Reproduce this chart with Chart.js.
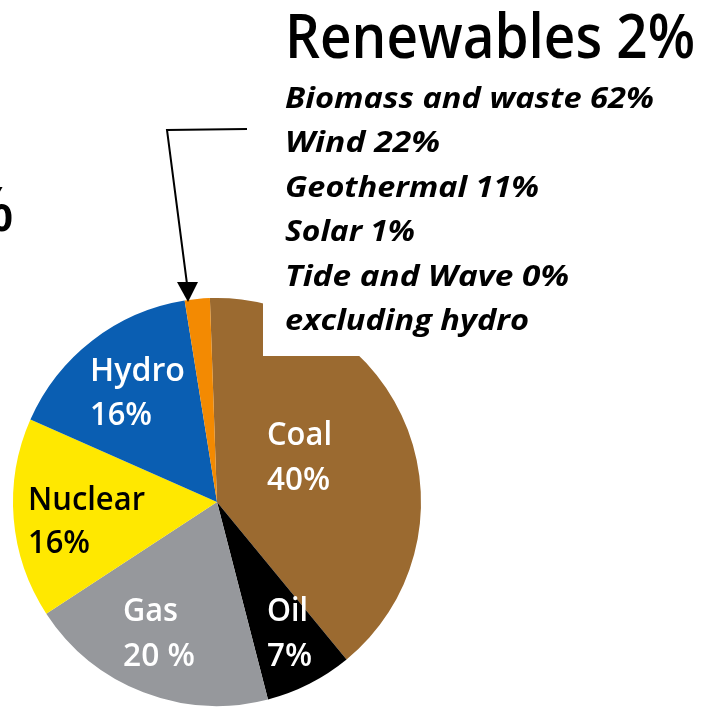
<!DOCTYPE html>
<html>
<head>
<meta charset="utf-8">
<script src="https://cdn.jsdelivr.net/npm/chart.js@4"></script>
<style>
  html, body { margin: 0; padding: 0; background: #fff; }
  #wrap { width: 704px; height: 707px; }
</style>
</head>
<body>
<div id="wrap"><canvas id="mix" width="704" height="707"></canvas></div>
<script>
// energy mix, share of total (percent)
var sources = ["Coal", "Oil", "Gas", "Nuclear", "Hydro", "Renewables"];
var shares = [40, 7, 20, 16, 16, 2];
var colors = ["#9b6a30", "#000000", "#96989c", "#ffe800", "#0a5eb2", "#f38a02"];

var renewTitle = "Renewables 2%";
var renewParts = [
    "Biomass and waste 62%",
    "Wind 22%",
    "Geothermal 11%",
    "Solar 1%",
    "Tide and Wave 0%",
    "excluding hydro"
];

// slice labels: [line1, line2, color, x, y1, y2, w1, w2]
var sliceLabels = [
    ["Coal", "40%", "#fff", 267, 445, 490, 65, 63],
    ["Oil", "7%", "#fff", 267, 621, 666, 41, 45],
    ["Gas", "20 %", "#fff", 123, 621, 666, 55, 72],
    ["Nuclear", "16%", "#000", 28, 510, 553, 117, 62],
    ["Hydro", "16%", "#fff", 90, 381, 425, 95, 62]
];

// draw text stretched/squeezed to an exact width
function fitText(ctx, txt, x, y, w) {
    var m = ctx.measureText(txt).width;
    ctx.save();
    ctx.translate(x, y);
    ctx.scale(w / m, 1);
    ctx.fillText(txt, 0, 0);
    ctx.restore();
}

var overlay = {
    id: 'overlay',
    afterDatasetsDraw: function (chart) {
        var ctx = chart.ctx;
        ctx.save();
        ctx.textBaseline = 'alphabetic';
        ctx.textAlign = 'left';

        // slice labels
        ctx.font = "600 32px 'Open Sans'";
        sliceLabels.forEach(function (l) {
            ctx.fillStyle = l[2];
            fitText(ctx, l[0], l[3], l[4], l[6]);
            fitText(ctx, l[1], l[3], l[5], l[7]);
        });

        // white box over the top right of the pie
        ctx.fillStyle = "#fff";
        ctx.fillRect(263, 0, 441, 356);

        // heading + breakdown
        ctx.fillStyle = "#000";
        ctx.font = "600 61px 'Open Sans'";
        fitText(ctx, renewTitle, 285, 58, 410);

        ctx.font = "italic 700 28px 'Open Sans'";
        var widths = [369, 155, 254, 130, 284, 244];
        for (var i = 0; i < renewParts.length; i++) {
            fitText(ctx, renewParts[i], 285, 108 + i * 44.4, widths[i]);
        }

        // cut-off glyph on the left edge
        ctx.font = "600 61px 'Open Sans'";
        ctx.textAlign = 'right';
        ctx.fillText("%", 14, 231);

        // arrow to the renewables slice
        ctx.strokeStyle = "#000";
        ctx.lineWidth = 2;
        ctx.beginPath();
        ctx.moveTo(247, 129);
        ctx.lineTo(167, 130);
        ctx.lineTo(187, 284);
        ctx.stroke();
        ctx.fillStyle = "#000";
        ctx.beginPath();
        ctx.moveTo(177, 282);
        ctx.lineTo(198, 282);
        ctx.lineTo(188, 302);
        ctx.closePath();
        ctx.fill();

        ctx.restore();
    }
};

new Chart(document.getElementById('mix'), {
    type: 'pie',
    data: {
        labels: sources,
        datasets: [{
            data: shares,
            backgroundColor: colors,
            borderWidth: 0
        }]
    },
    options: {
        responsive: false,
        animation: false,
        rotation: -2,
        layout: { padding: { left: 13, top: 298, right: 283, bottom: 1 } },
        plugins: {
            legend: { display: false },
            tooltip: { enabled: false }
        }
    },
    plugins: [overlay]
});
</script>
</body>
</html>
